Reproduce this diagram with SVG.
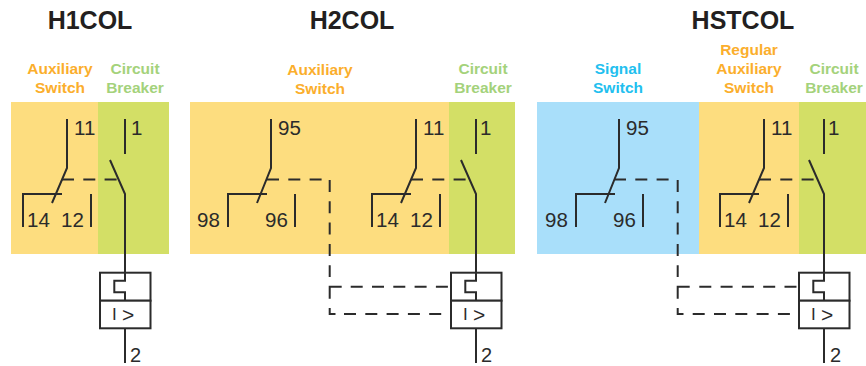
<svg xmlns="http://www.w3.org/2000/svg" width="866" height="366" viewBox="0 0 866 366">
<style>
text{font-family:"Liberation Sans",Arial,sans-serif}
.t{font-size:25px;font-weight:700;fill:#231f20;text-anchor:middle}
.l{font-size:15.500px;font-weight:700;text-anchor:middle}
.o{fill:#fbae2c}.g{fill:#a4d27b}.b{fill:#22bfef}
.n{font-size:20.500px;fill:#2b2b2b}
.e{font-size:20px;fill:#2b2b2b}
.i{font-size:17px;fill:#2b2b2b}
.a{font-size:21px}
.w{fill:none;stroke:#2b2b2b;stroke-width:2}
.c{fill:none;stroke:#2b2b2b;stroke-width:2}
.d{fill:none;stroke:#2b2b2b;stroke-width:2;stroke-dasharray:12 9.300}
.y{fill:#fddd7f}.v{fill:#d3df66}.s{fill:#a9dffa}
.r{fill:#fff;stroke:#2b2b2b;stroke-width:2}
</style>
<defs>
<g id="aux"><path class="w" d="M0 119V168L-15 203M-44 227V194H-5M24 194V227"/></g>
<g id="sig"><path class="w" d="M0 119V168L-14 203M-43 227V194H-4M24 194V227"/></g>
<g id="cb"><path class="w" d="M0 119V154M-15 160L0 194V272"/></g>
<g id="trip"><rect class="r" x="-25" y="272.700" width="50.500" height="28"/><rect class="r" x="-25" y="300.700" width="50.500" height="27.600"/><path class="w" d="M0 272V280.700H-10.700V292.300H0V300.700M0 328V363"/></g>
</defs>
<text class="t" x="90" y="29">H1COL</text>
<text class="t" x="352" y="29">H2COL</text>
<text class="t" x="743" y="29">HSTCOL</text>

<g id="h1-aux"><rect class="y" x="11" y="102" width="87" height="152"/><text class="l o" x="60" y="74">Auxiliary</text><text class="l o" x="60" y="93">Switch</text><use href="#aux" x="67"/><text class="n" x="74" y="135">11</text><text class="n" x="27" y="226.700">14</text><text class="n" x="61" y="226.700">12</text></g>
<g id="h1-cb"><rect class="v" x="98" y="102" width="71" height="152"/><text class="l g" x="135" y="74">Circuit</text><text class="l g" x="135" y="93">Breaker</text><use href="#cb" x="125"/><text class="n" x="131" y="135">1</text></g>
<g id="h1-trip"><use href="#trip" x="125"/><text class="i" x="112" y="320">I <tspan class="a" x="122" y="322">&gt;</tspan></text><text class="e" x="130" y="361.700">2</text></g>

<g id="h2-aux"><rect class="y" x="190" y="102" width="259" height="152"/><text class="l o" x="320" y="75">Auxiliary</text><text class="l o" x="320" y="94">Switch</text><use href="#sig" x="271"/><text class="n" x="278" y="135">95</text><text class="n" x="197" y="226.700">98</text><text class="n" x="265" y="226.700">96</text><use href="#aux" x="416"/><text class="n" x="423" y="135">11</text><text class="n" x="376" y="226.700">14</text><text class="n" x="410" y="226.700">12</text></g>
<g id="h2-cb"><rect class="v" x="449" y="102" width="66" height="152"/><text class="l g" x="483" y="74">Circuit</text><text class="l g" x="483" y="93">Breaker</text><use href="#cb" x="476"/><text class="n" x="480" y="135">1</text></g>
<g id="h2-trip"><use href="#trip" x="476"/><text class="i" x="463" y="320">I <tspan class="a" x="473" y="322">&gt;</tspan></text><text class="e" x="481" y="361.700">2</text></g>

<g id="h3-sig"><rect class="s" x="537" y="102" width="162" height="152"/><text class="l b" x="618" y="74">Signal</text><text class="l b" x="618" y="93">Switch</text><use href="#sig" x="619"/><text class="n" x="626" y="135">95</text><text class="n" x="545" y="226.700">98</text><text class="n" x="613" y="226.700">96</text></g>
<g id="h3-aux"><rect class="y" x="699" y="102" width="100" height="152"/><text class="l o" x="749" y="55">Regular</text><text class="l o" x="749" y="74">Auxiliary</text><text class="l o" x="749" y="93">Switch</text><use href="#aux" x="764"/><text class="n" x="771" y="135">11</text><text class="n" x="724" y="226.700">14</text><text class="n" x="758" y="226.700">12</text></g>
<g id="h3-cb"><rect class="v" x="799" y="102" width="67" height="152"/><text class="l g" x="834" y="74">Circuit</text><text class="l g" x="834" y="93">Breaker</text><use href="#cb" x="824"/><text class="n" x="828" y="135">1</text></g>
<g id="h3-trip"><use href="#trip" x="824"/><text class="i" x="811" y="320">I <tspan class="a" x="821" y="322">&gt;</tspan></text><text class="e" x="830" y="361.700">2</text></g>

<g id="connectors">
<path class="d" d="M62 179.500H117"/>
<path class="d" d="M267 179.500H323"/>
<path class="d" d="M329.700 180V277"/>
<path class="c" d="M329.700 298.700V286.700H341.700"/>
<path class="d" d="M350.700 286.700H448"/>
<path class="c" d="M329.700 308V314H335.500"/>
<path class="d" d="M344 314H442"/>
<path class="d" d="M411 179.500H466"/>
<path class="d" d="M614 179.500H671"/>
<path class="d" d="M677.700 180V277"/>
<path class="c" d="M677.700 298.700V286.700H689.700"/>
<path class="d" d="M699.300 286.700H797"/>
<path class="c" d="M677.700 308V314H683.500"/>
<path class="d" d="M692.700 314H790"/>
<path class="d" d="M759 179.500H814"/>
</g>
</svg>
